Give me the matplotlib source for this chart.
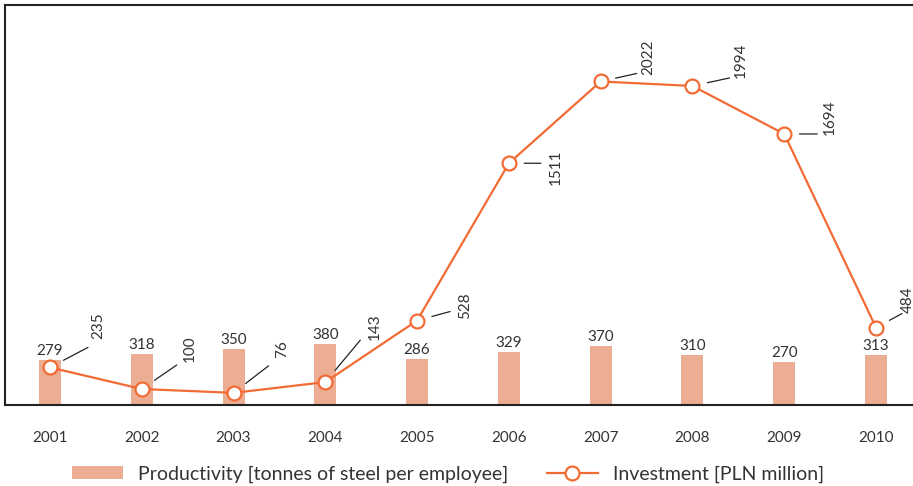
import numpy as np
import matplotlib.pyplot as plt

plt.rcParams['font.family'] = ['Lato', 'DejaVu Sans']

years = ['2001', '2002', '2003', '2004', '2005', '2006', '2007', '2008', '2009', '2010']
productivity = [279, 318, 350, 380, 286, 329, 370, 310, 270, 313]
investment = [235, 100, 76, 143, 528, 1511, 2022, 1994, 1694, 484]

# leader end (dx, dy) and label (dx, bottom dy), pixels from the marker
leader_end = [(38, 20), (35, 24), (35, 27), (35, 42), (33, 9), (32, 0), (36, 8), (37, 8), (33, 0), (26, 14)]
label_pos = [(48, 28), (48, 27), (49, 35), (49, 42), (48, 2), (47, -22), (48, 6), (48, 8), (46, -1), (32, 15)]

bar_col = '#ebae93'
line_col = '#f26b35'
txt_col = '#333333'

fig = plt.figure(figsize=(9.13, 4.86), dpi=100)
ax = fig.add_axes([5 / 913, 81 / 486, 916 / 913, 400 / 486])

x = np.arange(len(years))
bars = ax.bar(x, productivity, width=0.24, color=bar_col, zorder=1)
for xi, v in zip(x, productivity):
    ax.annotate(str(v), (xi, v), xytext=(0, 2), textcoords='offset pixels',
                ha='center', va='bottom', fontsize=11, color=txt_col)

line, = ax.plot(x, investment, color=line_col, lw=1.6, marker='o', ms=10,
                mfc='white', mec=line_col, mew=1.6, zorder=3)

for xi, v, (ex, ey), (tx, ty) in zip(x, investment, leader_end, label_pos):
    ax.annotate('', (xi, v), xytext=(ex, ey), textcoords='offset pixels',
                arrowprops=dict(arrowstyle='-', color='#222222', lw=0.9, shrinkA=0, shrinkB=11))
    ax.annotate(str(v), (xi, v), xytext=(tx, ty), textcoords='offset pixels',
                rotation=90, ha='center', va='bottom', fontsize=11, color=txt_col)

ax.set_xlim(-0.49, 9.49)
ax.set_ylim(0, 2500)
ax.set_yticks([])
ax.set_xticks(x)
ax.set_xticklabels(years, fontsize=11, color=txt_col)
ax.tick_params(axis='x', length=0, pad=19)
for s in ['top', 'left', 'bottom', 'right']:
    ax.spines[s].set_linewidth(1.5)
    ax.spines[s].set_color('#222222')

fig.legend([bars, line],
           ['Productivity [tonnes of steel per employee]', 'Investment [PLN million]'],
           loc='center', bbox_to_anchor=(448 / 913, 1 - 474 / 486), bbox_transform=fig.transFigure,
           ncol=2, frameon=False, fontsize=14, handlelength=2.6, columnspacing=2.0,
           handletextpad=0.77, labelcolor=txt_col)

fig.savefig('out.png', dpi=100)
